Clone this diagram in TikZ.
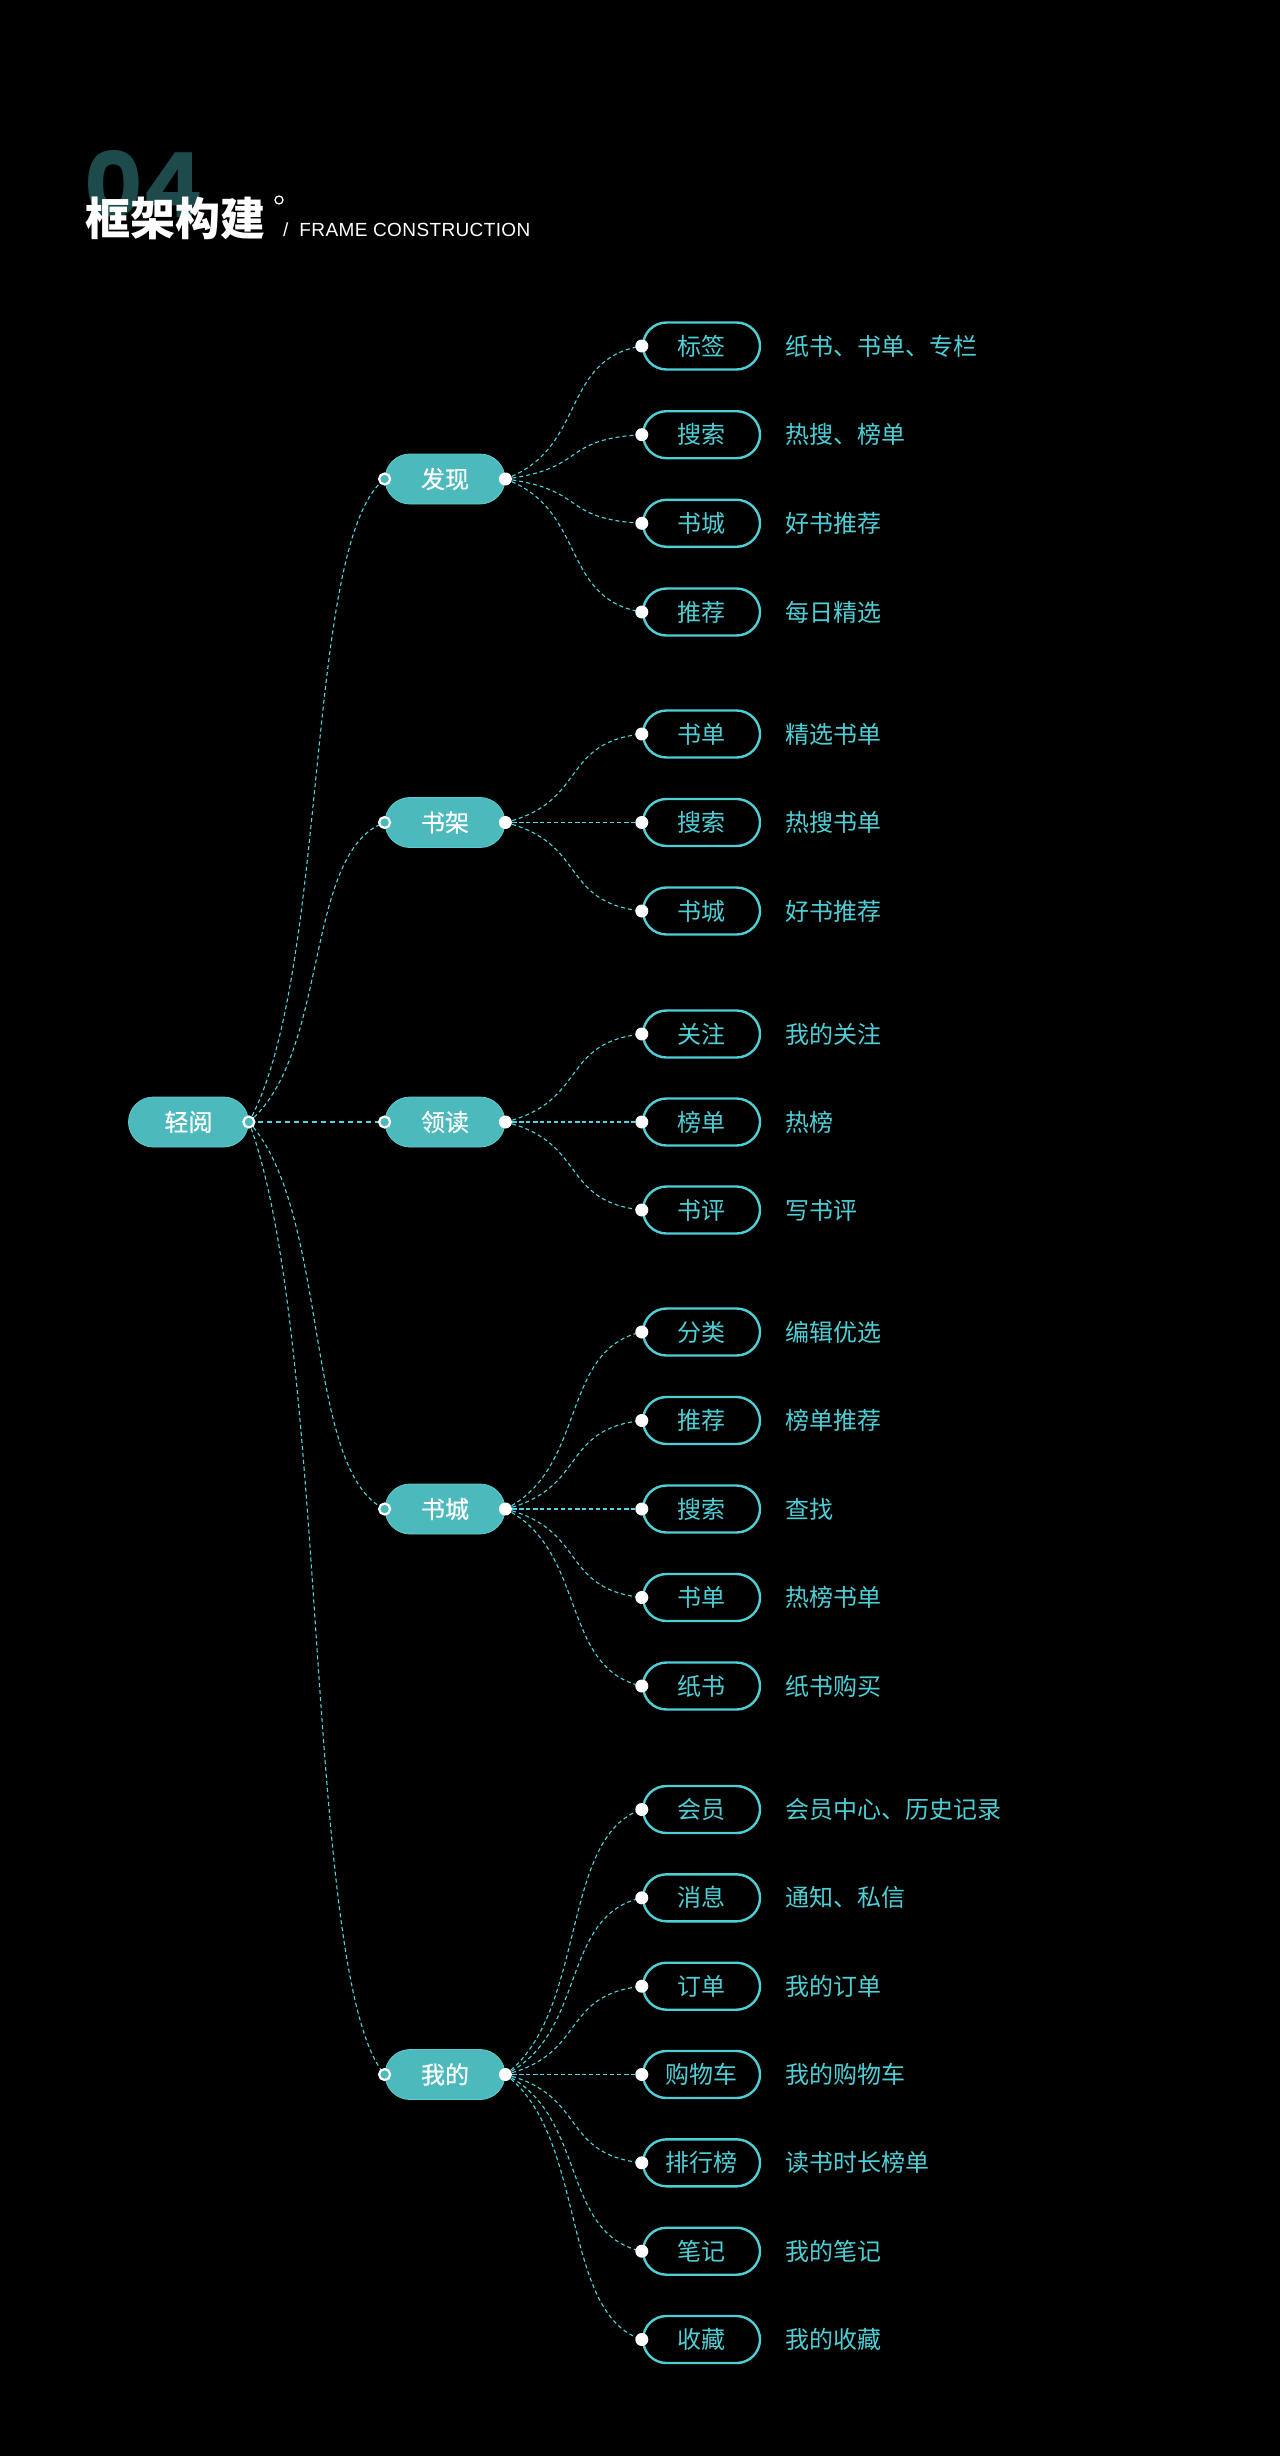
\documentclass[tikz,border=0pt]{standalone}
\usepackage{fontspec}
\setmainfont{Noto Sans CJK SC}
\newfontfamily\cjk{Noto Sans CJK SC}
\newfontfamily\cjkmed[FakeBold=0.6]{Noto Sans CJK SC}
\newfontfamily\numfont{Poppins}
\newfontfamily\latinfont[LetterSpace=2]{Liberation Sans}
\usetikzlibrary{calc}
\definecolor{fillc}{HTML}{4CB9BC}
\definecolor{rimc}{HTML}{5CCDD0}
\definecolor{cyanc}{HTML}{4ECFD6}
\definecolor{linec}{HTML}{4FD6DE}
\definecolor{numc}{HTML}{1D4A4B}
\tikzset{
  mainbox/.style={rectangle, rounded corners=25pt, minimum width=120pt, minimum height=50pt,
    inner sep=0pt, fill=fillc, draw=rimc, line width=0.8pt, text=white,
    font={\cjkmed\fontsize{24}{24}\selectfont}, text height=21.1pt, text depth=2.9pt},
  subbox/.style={rectangle, rounded corners=23.5pt, minimum width=117pt, minimum height=47pt,
    inner sep=0pt, draw=cyanc, line width=2.4pt, text=cyanc,
    font={\cjk\fontsize{24}{24}\selectfont}, text height=21.1pt, text depth=2.9pt},
  leaf/.style={anchor=west, inner sep=0pt, text=cyanc,
    font={\cjk\fontsize{24}{24}\selectfont}, text height=21.1pt, text depth=2.9pt},
  conn/.style={draw=linec, line width=1.1pt, dash pattern=on 4pt off 3pt},
  thickconn/.style={draw=linec, line width=2.2pt, dash pattern=on 5.5pt off 3.5pt},
  opendot/.style={circle, draw=white, line width=2.2pt, fill=fillc, minimum size=11pt, inner sep=0pt},
  whitedot/.style={circle, fill=white, minimum size=13pt, inner sep=0pt},
}
\newcommand\curvelink[2]{%
  \draw[conn] let \p1=(#1), \p2=(#2) in (\p1) .. controls
    ({\x1+0.6*(\x2-\x1)},{\y1+0.23*(\y2-\y1)}) and
    ({\x2-0.6*(\x2-\x1)},{\y2-0.1*(\y2-\y1)}) .. (\p2);}
\newcommand\subnode[5]{%
  \node[subbox] (#1) at (701.5,#2) {#3};
  \node[leaf] (#1t) at (785,#2) {#4};
  \curvelink{#5.east}{#1.west}
  \node[whitedot] (#1d) at (#1.west) {};}
\begin{document}
\begin{tikzpicture}[x=1pt,y=-1pt]
\fill[black] (0,0) rectangle (1280,2456);
\useasboundingbox (0,0) rectangle (1280,2456);
% title
\node[anchor=base west, inner sep=0pt, text=numc, font={\numfont\bfseries\fontsize{90}{90}\selectfont}] (num) at (84,218) {04};
\node[anchor=base west, inner sep=0pt, text=white, font={\cjk\bfseries\fontsize{45}{45}\selectfont}] (title) at (85,236) {框架构建};
\node[circle, draw=white, line width=1.3pt, minimum size=8pt, inner sep=0pt] (deg) at (279,200) {};
\node[anchor=base west, inner sep=0pt, text=white, font={\latinfont\fontsize{19}{19}\selectfont}] (subt) at (283,237) {/\hspace{11pt}FRAME CONSTRUCTION};
% root and level 1
\node[mainbox] (root) at (188.5,1122) {轻阅};
\node[mainbox] (a) at (445,479) {发现};
\node[mainbox] (b) at (445,822.5) {书架};
\node[mainbox] (c) at (445,1122) {领读};
\node[mainbox] (d) at (445,1509) {书城};
\node[mainbox] (e) at (445,2074.5) {我的};
\curvelink{root.east}{a.west}
\curvelink{root.east}{b.west}
\curvelink{root.east}{d.west}
\curvelink{root.east}{e.west}
\draw[thickconn] (root.east) -- (c.west);
% level 2
\subnode{a1}{346}{标签}{纸书、书单、专栏}{a}
\subnode{a2}{434.7}{搜索}{热搜、榜单}{a}
\subnode{a3}{523.3}{书城}{好书推荐}{a}
\subnode{a4}{612}{推荐}{每日精选}{a}
\subnode{b1}{734}{书单}{精选书单}{b}
\subnode{b2}{822.5}{搜索}{热搜书单}{b}
\subnode{b3}{911}{书城}{好书推荐}{b}
\subnode{c1}{1034}{关注}{我的关注}{c}
\subnode{c2}{1122}{榜单}{热榜}{c}
\subnode{c3}{1210}{书评}{写书评}{c}
\subnode{d1}{1332}{分类}{编辑优选}{d}
\subnode{d2}{1420.5}{推荐}{榜单推荐}{d}
\subnode{d3}{1509}{搜索}{查找}{d}
\subnode{d4}{1597.5}{书单}{热榜书单}{d}
\subnode{d5}{1686}{纸书}{纸书购买}{d}
\subnode{e1}{1809.5}{会员}{会员中心、历史记录}{e}
\subnode{e2}{1897.8}{消息}{通知、私信}{e}
\subnode{e3}{1986.2}{订单}{我的订单}{e}
\subnode{e4}{2074.5}{购物车}{我的购物车}{e}
\subnode{e5}{2162.8}{排行榜}{读书时长榜单}{e}
\subnode{e6}{2251.2}{笔记}{我的笔记}{e}
\subnode{e7}{2339.5}{收藏}{我的收藏}{e}
% dots
\node[opendot] (rootd) at (root.east) {};
\foreach \n in {a,b,c,d,e}{
  \node[opendot] (\n in) at (\n.west) {};
  \node[whitedot] (\n out) at (\n.east) {};
}
\end{tikzpicture}
\end{document}
